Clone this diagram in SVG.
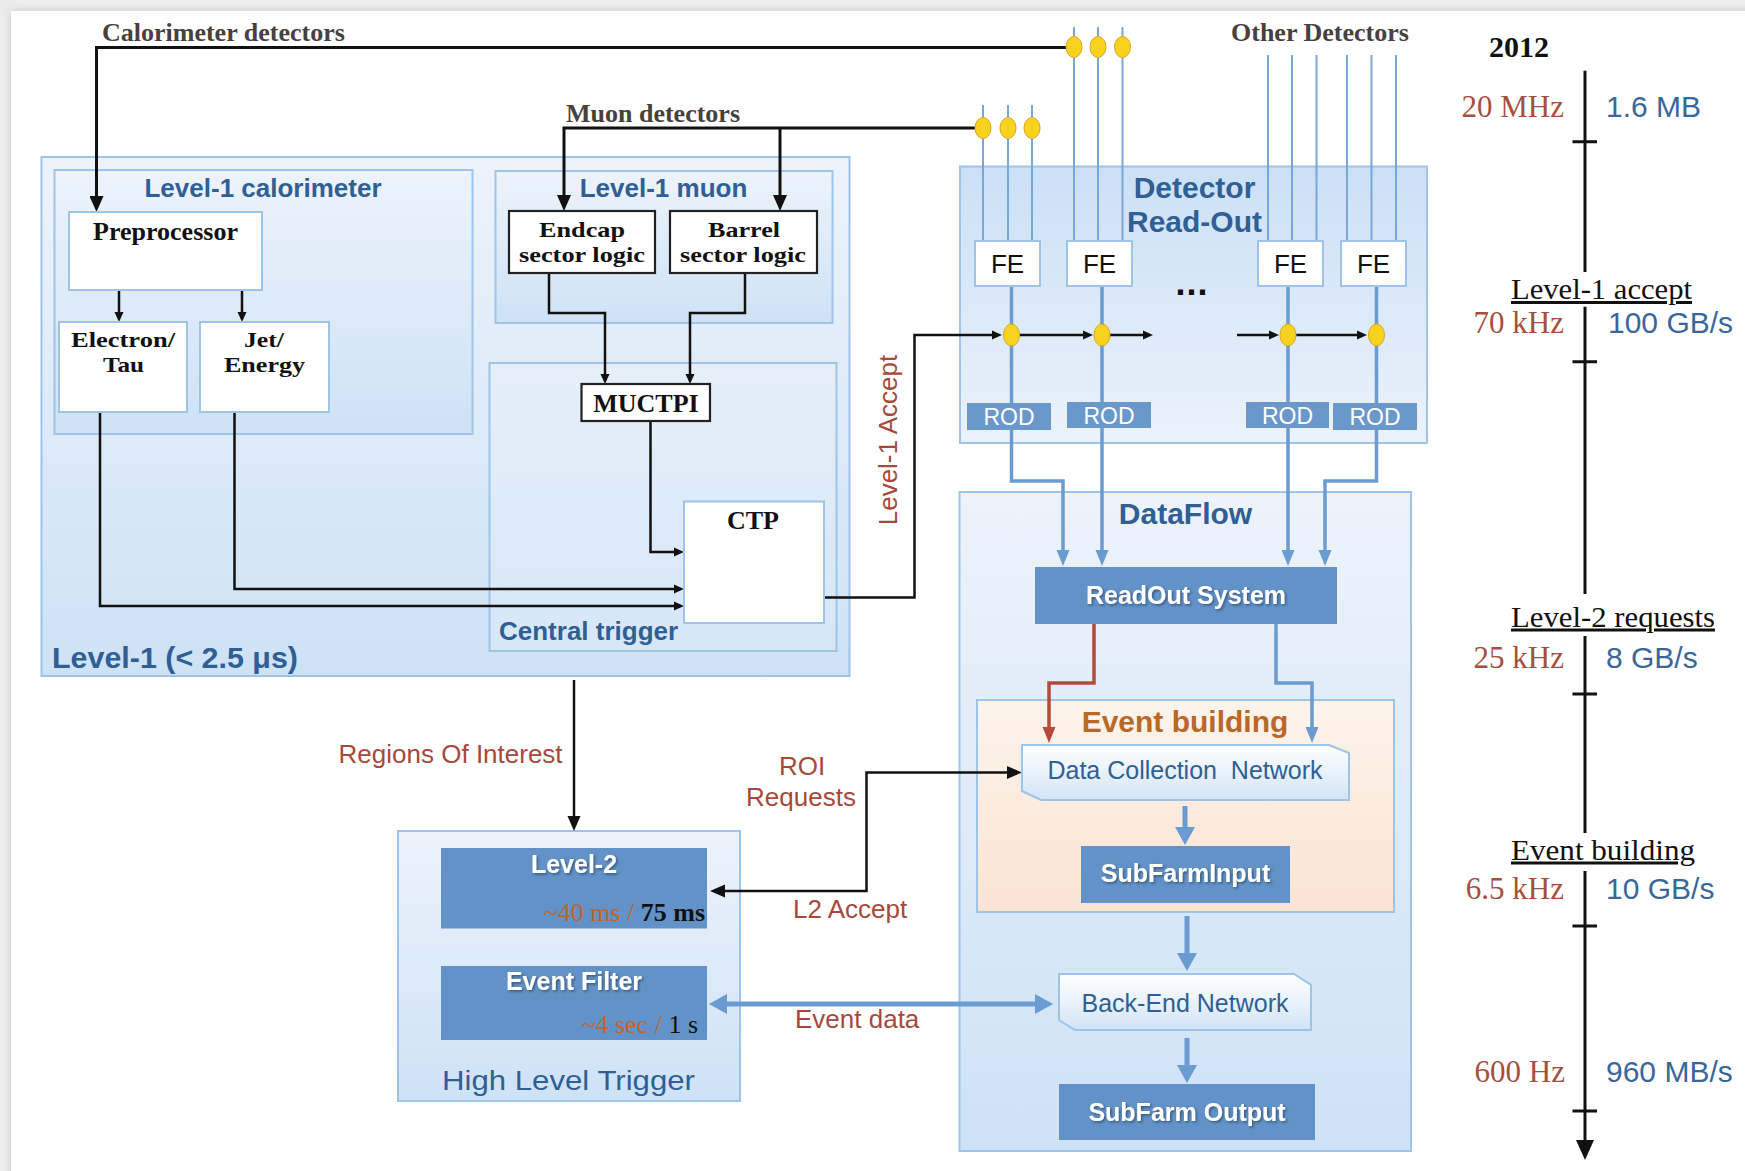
<svg xmlns="http://www.w3.org/2000/svg" width="1745" height="1171" viewBox="0 0 1745 1171">
<defs>
<style>
.box{stroke:#9ec4e8;stroke-width:2}
.wbox{fill:#fff;stroke:#9ec4e8;stroke-width:2}
.kbox{fill:#fff;stroke:#222;stroke-width:2.2}
.dbox{fill:#6292c7}
.rod{fill:#6a98cb}
.net{fill:url(#gNet);stroke:#9ec4e8;stroke-width:2}
.ttl{font-family:"Liberation Sans",Arial,sans-serif;font-weight:bold;fill:#2f5f95}
.ser{font-family:"Liberation Serif","Times New Roman",serif;font-weight:bold;font-size:26px;fill:#111}
.ser2{font-family:"Liberation Serif","Times New Roman",serif;font-weight:bold;font-size:22px;fill:#111}
.san{font-family:"Liberation Sans",Arial,sans-serif}
.wt{font-family:"Liberation Sans",Arial,sans-serif;font-weight:bold;font-size:25px;fill:#fff;filter:url(#ts)}
.lbl{font-family:"Liberation Sans",Arial,sans-serif;font-size:26px;fill:#a6493b}
.det{font-family:"Liberation Serif","Times New Roman",serif;font-weight:bold;font-size:26px;fill:#47413e}
.rate{font-family:"Liberation Serif","Times New Roman",serif;font-size:31px;fill:#a5503f;text-anchor:end}
.bw{font-family:"Liberation Sans",Arial,sans-serif;font-size:30px;fill:#3a679a}
.stg{font-family:"Liberation Serif","Times New Roman",serif;font-size:30px;fill:#111;text-decoration:underline}
.k{fill:none;stroke:#111;stroke-width:2.5}
.kt{fill:none;stroke:#111;stroke-width:3}
.b{fill:none;stroke:#6a9bd1;stroke-width:3.5}
.bt{fill:none;stroke:#7aa7d9;stroke-width:2}
.bf{fill:none;stroke:#6a9bd1;stroke-width:5}
.r{fill:none;stroke:#b5493a;stroke-width:3.5}
.dot{fill:#f7d31f;stroke:#d8a82a;stroke-width:1}
</style>
<linearGradient id="gBox" x1="0" y1="0" x2="0" y2="1">
<stop offset="0" stop-color="#edf3fb"/><stop offset="1" stop-color="#cee2f6"/>
</linearGradient>
<linearGradient id="gCT" x1="0" y1="0" x2="0" y2="1">
<stop offset="0" stop-color="#e6eff9"/><stop offset="1" stop-color="#d6e7f8"/>
</linearGradient>
<linearGradient id="gDRO" x1="0" y1="0" x2="0" y2="1">
<stop offset="0" stop-color="#cbe0f6"/><stop offset="1" stop-color="#ebf2fb"/>
</linearGradient>
<linearGradient id="gEB" x1="0" y1="0" x2="0" y2="1">
<stop offset="0" stop-color="#fcf4ec"/><stop offset="1" stop-color="#fbe3d2"/>
</linearGradient>
<linearGradient id="gNet" x1="0" y1="0" x2="0" y2="1">
<stop offset="0" stop-color="#ffffff"/><stop offset="1" stop-color="#d3e4f6"/>
</linearGradient>
<filter id="ts" x="-10%" y="-30%" width="120%" height="160%">
<feDropShadow dx="1.5" dy="1.5" stdDeviation="1.2" flood-color="#1e3550" flood-opacity="0.6"/>
</filter>
<filter id="sh" x="-5%" y="-5%" width="110%" height="110%">
<feGaussianBlur stdDeviation="5"/>
</filter>
<marker id="aBig" markerUnits="userSpaceOnUse" markerWidth="16" markerHeight="14" refX="2" refY="7" orient="auto">
<path d="M0,0 L16,7 L0,14 z" fill="#111"/>
</marker>
<marker id="aSm" markerUnits="userSpaceOnUse" markerWidth="10" markerHeight="10" refX="2" refY="5" orient="auto">
<path d="M0,0.5 L10,5 L0,9.5 z" fill="#111"/>
</marker>
<marker id="aMed" markerUnits="userSpaceOnUse" markerWidth="15" markerHeight="14" refX="2" refY="7" orient="auto-start-reverse">
<path d="M0,0.5 L15,7 L0,13.5 z" fill="#111"/>
</marker>
<marker id="bArr" markerUnits="userSpaceOnUse" markerWidth="16" markerHeight="14" refX="2" refY="7" orient="auto">
<path d="M0,0.5 L16,7 L0,13.5 z" fill="#6a9bd1"/>
</marker>
<marker id="rArr" markerUnits="userSpaceOnUse" markerWidth="16" markerHeight="14" refX="2" refY="7" orient="auto">
<path d="M0,0.5 L16,7 L0,13.5 z" fill="#b5493a"/>
</marker>
<marker id="bFat" markerUnits="userSpaceOnUse" markerWidth="18" markerHeight="20" refX="2" refY="10" orient="auto-start-reverse">
<path d="M0,0 L18,10 L0,20 z" fill="#6a9bd1"/>
</marker>
<marker id="tArr" markerUnits="userSpaceOnUse" markerWidth="20" markerHeight="18" refX="2" refY="9" orient="auto">
<path d="M0,0 L20,9 L0,18 z" fill="#111"/>
</marker>
</defs>

<rect x="0" y="0" width="1745" height="1171" fill="#ededed"/>
<rect x="11" y="11" width="1760" height="1190" fill="#c8c8c8" filter="url(#sh)"/>
<rect x="11" y="11" width="1734" height="1160" fill="#ffffff"/>

<!-- containers -->
<g id="level1">
<rect class="box" x="41.5" y="157" width="808" height="519" fill="url(#gBox)"/>
<text class="ttl" x="52" y="668" font-size="29" textLength="246" lengthAdjust="spacingAndGlyphs">Level-1 (&lt; 2.5 μs)</text>
</g>
<g id="l1calo">
<rect class="box" x="54.5" y="170" width="418" height="264" fill="url(#gBox)"/>
<text class="ttl" x="263" y="197" font-size="26" text-anchor="middle">Level-1 calorimeter</text>
</g>
<g id="l1muon">
<rect class="box" x="495.5" y="171" width="337" height="152" fill="url(#gBox)"/>
<text class="ttl" x="663.5" y="197" font-size="26" text-anchor="middle">Level-1 muon</text>
</g>
<g id="central-trigger">
<rect class="box" x="489.5" y="363" width="347" height="288" fill="url(#gCT)"/>
<text class="ttl" x="499" y="640" font-size="26">Central trigger</text>
</g>
<g id="detector-readout">
<rect class="box" x="960" y="166.5" width="467" height="276.5" fill="url(#gDRO)"/>
<text class="ttl" x="1194.5" y="198" font-size="30" text-anchor="middle">Detector</text>
<text class="ttl" x="1194.5" y="232" font-size="30" text-anchor="middle">Read-Out</text>
</g>
<g id="dataflow">
<rect class="box" x="959.5" y="492" width="451.5" height="659" fill="url(#gBox)"/>
<text class="ttl" x="1185.5" y="524" font-size="30" text-anchor="middle">DataFlow</text>
</g>
<g id="event-building">
<rect class="box" x="977" y="700" width="417" height="212" fill="url(#gEB)"/>
<text class="ttl" x="1185" y="732" font-size="30" text-anchor="middle" style="fill:#b8692a">Event building</text>
</g>
<g id="hlt">
<rect class="box" x="398" y="831" width="342" height="270" fill="url(#gBox)"/>
<text class="san" x="568.5" y="1090" font-size="27" fill="#2f5f95" text-anchor="middle" textLength="253" lengthAdjust="spacingAndGlyphs">High Level Trigger</text>
</g>

<!-- connectors -->
<g id="connectors">
<path class="bt" d="M1074 27V241M1098 27V241M1122.5 27V241"/>
<path class="bt" d="M983 105V241M1008 105V241M1032 105V241"/>
<path class="bt" d="M1268 55V241M1292 55V241M1316.5 55V241M1347 55V241M1371.5 55V241M1396 55V241"/>
<path class="kt" d="M1074 47.5H96.5V198" marker-end="url(#aBig)"/>
<path class="kt" d="M983 128H564V197" marker-end="url(#aBig)"/>
<path class="kt" d="M780 128V197" marker-end="url(#aBig)"/>
<path class="k" d="M119 290V314" marker-end="url(#aSm)"/>
<path class="k" d="M242 290V314" marker-end="url(#aSm)"/>
<path class="k" d="M549 273V313H605V376" marker-end="url(#aSm)"/>
<path class="k" d="M745 273V313H690V376" marker-end="url(#aSm)"/>
<path class="k" d="M650.5 421V552H676" marker-end="url(#aSm)"/>
<path class="k" d="M234.5 412V589H676" marker-end="url(#aSm)"/>
<path class="k" d="M100 412V606H676" marker-end="url(#aSm)"/>
<path class="b" d="M1011.5 286V403M1102 286V402M1288 286V402M1376.5 286V403"/>
<path class="k" d="M824 597.5H914.5V335H994" marker-end="url(#aSm)"/>
<path class="k" d="M1019 335H1085" marker-end="url(#aSm)"/>
<path class="k" d="M1110 335H1145" marker-end="url(#aSm)"/>
<path class="k" d="M1237 335H1271" marker-end="url(#aSm)"/>
<path class="k" d="M1295 335H1359" marker-end="url(#aSm)"/>
<path class="b" d="M1011.5 430V481H1063V552" marker-end="url(#bArr)"/>
<path class="b" d="M1102 428V552" marker-end="url(#bArr)"/>
<path class="b" d="M1288 428V552" marker-end="url(#bArr)"/>
<path class="b" d="M1376.5 430V481H1325V552" marker-end="url(#bArr)"/>
<path class="r" d="M1094 624V683H1049V729" marker-end="url(#rArr)"/>
<path class="b" d="M1276 624V683H1312V729" marker-end="url(#bArr)"/>
<path class="bf" d="M1185 806V829" marker-end="url(#bFat)"/>
<path class="bf" d="M1187 916V955" marker-end="url(#bFat)"/>
<path class="bf" d="M1187 1038V1067" marker-end="url(#bFat)"/>
<path class="bf" d="M725 1004H1037" marker-start="url(#bFat)" marker-end="url(#bFat)"/>
<path class="k" d="M574 680V818" marker-end="url(#aMed)"/>
<path class="k" d="M723 891H866.5V772.5H1009" marker-start="url(#aMed)" marker-end="url(#aMed)"/>
<ellipse class="dot" cx="1074" cy="47" rx="8" ry="10.5"/>
<ellipse class="dot" cx="1098" cy="47" rx="8" ry="10.5"/>
<ellipse class="dot" cx="1122.5" cy="47" rx="8" ry="10.5"/>
<ellipse class="dot" cx="983" cy="128" rx="8" ry="10.5"/>
<ellipse class="dot" cx="1008" cy="128" rx="8" ry="10.5"/>
<ellipse class="dot" cx="1032" cy="128" rx="8" ry="10.5"/>
<ellipse class="dot" cx="1011.5" cy="335" rx="8" ry="11"/>
<ellipse class="dot" cx="1102" cy="335" rx="8" ry="11"/>
<ellipse class="dot" cx="1288" cy="335" rx="8" ry="11"/>
<ellipse class="dot" cx="1376.5" cy="335" rx="8" ry="11"/>
</g>

<!-- detector source labels -->
<g id="sources">
<text class="det" x="102" y="41">Calorimeter detectors</text>
<text class="det" x="566" y="122">Muon detectors</text>
<text class="det" x="1231" y="41">Other Detectors</text>
</g>

<!-- Level-1 nodes -->
<g id="preprocessor">
<rect class="wbox" x="69" y="212" width="193" height="78"/>
<text class="ser" x="165.5" y="240" text-anchor="middle">Preprocessor</text>
</g>
<g id="electron-tau">
<rect class="wbox" x="59" y="322" width="128" height="90"/>
<text class="ser2" x="123" y="347" text-anchor="middle" textLength="104" lengthAdjust="spacingAndGlyphs">Electron/</text>
<text class="ser2" x="123.5" y="372" text-anchor="middle" textLength="41" lengthAdjust="spacingAndGlyphs">Tau</text>
</g>
<g id="jet-energy">
<rect class="wbox" x="200" y="322" width="129" height="90"/>
<text class="ser2" x="264" y="347" text-anchor="middle" textLength="40" lengthAdjust="spacingAndGlyphs">Jet/</text>
<text class="ser2" x="264.5" y="372" text-anchor="middle" textLength="81" lengthAdjust="spacingAndGlyphs">Energy</text>
</g>
<g id="endcap">
<rect class="kbox" x="509" y="211" width="146" height="62"/>
<text class="ser2" x="582" y="237" text-anchor="middle" textLength="86" lengthAdjust="spacingAndGlyphs">Endcap</text>
<text class="ser2" x="582" y="262" text-anchor="middle" textLength="126" lengthAdjust="spacingAndGlyphs">sector logic</text>
</g>
<g id="barrel">
<rect class="kbox" x="670" y="211" width="147" height="62"/>
<text class="ser2" x="744" y="237" text-anchor="middle" textLength="72" lengthAdjust="spacingAndGlyphs">Barrel</text>
<text class="ser2" x="743" y="262" text-anchor="middle" textLength="126" lengthAdjust="spacingAndGlyphs">sector logic</text>
</g>
<g id="muctpi">
<rect class="kbox" x="581.5" y="384" width="128.5" height="37"/>
<text class="ser" x="646" y="412" text-anchor="middle">MUCTPI</text>
</g>
<g id="ctp">
<rect class="wbox" x="684" y="501.5" width="140" height="121.5"/>
<text class="ser" x="753" y="529" text-anchor="middle">CTP</text>
</g>

<!-- Detector read-out nodes -->
<g id="fe1"><rect class="wbox" x="975" y="241" width="65" height="45"/><text class="san" x="1007.5" y="272.5" font-size="26" text-anchor="middle" fill="#111">FE</text></g>
<g id="fe2"><rect class="wbox" x="1067" y="241" width="65" height="45"/><text class="san" x="1099.5" y="272.5" font-size="26" text-anchor="middle" fill="#111">FE</text></g>
<g id="fe3"><rect class="wbox" x="1258" y="241" width="65" height="45"/><text class="san" x="1290.5" y="272.5" font-size="26" text-anchor="middle" fill="#111">FE</text></g>
<g id="fe4"><rect class="wbox" x="1341" y="241" width="65" height="45"/><text class="san" x="1373.5" y="272.5" font-size="26" text-anchor="middle" fill="#111">FE</text></g>
<g id="ellipsis"><text class="san" x="1192" y="295" font-size="36" font-weight="bold" text-anchor="middle" fill="#111" letter-spacing="1">...</text></g>
<g id="rod1"><rect class="rod" x="967" y="403" width="84" height="27"/><text class="san" x="1009" y="425" font-size="23" text-anchor="middle" fill="#fff">ROD</text></g>
<g id="rod2"><rect class="rod" x="1067" y="402" width="84" height="26"/><text class="san" x="1109" y="424" font-size="23" text-anchor="middle" fill="#fff">ROD</text></g>
<g id="rod3"><rect class="rod" x="1246" y="402" width="83" height="26"/><text class="san" x="1287.5" y="424" font-size="23" text-anchor="middle" fill="#fff">ROD</text></g>
<g id="rod4"><rect class="rod" x="1333" y="403" width="84" height="27"/><text class="san" x="1375" y="425" font-size="23" text-anchor="middle" fill="#fff">ROD</text></g>

<!-- DataFlow nodes -->
<g id="readout-system">
<rect class="dbox" x="1035" y="567" width="302" height="57"/>
<text class="wt" x="1186" y="604" text-anchor="middle">ReadOut System</text>
</g>
<g id="dcn">
<polygon class="net" points="1022,745 1329,745 1349,753 1349,800 1041,800 1022,791"/>
<text class="san" x="1185" y="779" font-size="25" fill="#2f5f95" text-anchor="middle">Data Collection &#160;Network</text>
</g>
<g id="sfi">
<rect class="dbox" x="1081" y="846" width="209" height="57"/>
<text class="wt" x="1185.5" y="882" text-anchor="middle">SubFarmInput</text>
</g>
<g id="ben">
<polygon class="net" points="1059,974 1294,974 1311,985 1311,1030 1075,1030 1059,1020"/>
<text class="san" x="1185" y="1012" font-size="25" fill="#2f5f95" text-anchor="middle">Back-End Network</text>
</g>
<g id="sfo">
<rect class="dbox" x="1059" y="1084" width="256" height="56"/>
<text class="wt" x="1187" y="1121" text-anchor="middle">SubFarm Output</text>
</g>

<!-- HLT nodes -->
<g id="level2">
<rect class="dbox" x="441" y="848" width="266" height="80.5"/>
<text class="wt" x="574" y="873" text-anchor="middle">Level-2</text>
<text x="705" y="920.5" text-anchor="end" font-family="Liberation Serif, Times New Roman, serif" font-size="26"><tspan fill="#c0652c">~40 ms / </tspan><tspan fill="#111" font-weight="bold">75 ms</tspan></text>
</g>
<g id="event-filter">
<rect class="dbox" x="441" y="966" width="266" height="74"/>
<text class="wt" x="574" y="990" text-anchor="middle">Event Filter</text>
<text x="698" y="1032.5" text-anchor="end" font-family="Liberation Serif, Times New Roman, serif" font-size="26"><tspan fill="#c0652c">~4 sec / </tspan><tspan fill="#111">1 s</tspan></text>
</g>

<!-- connector labels -->
<g id="labels">
<text class="lbl" transform="translate(897,440) rotate(-90)" text-anchor="middle">Level-1 Accept</text>
<text class="lbl" x="338.6" y="763">Regions Of Interest</text>
<text class="lbl" x="802" y="775" text-anchor="middle">ROI</text>
<text class="lbl" x="801" y="806" text-anchor="middle">Requests</text>
<text class="lbl" x="793" y="918">L2 Accept</text>
<text class="lbl" x="795" y="1028">Event data</text>
</g>

<!-- timeline -->
<g id="timeline">
<path class="kt" d="M1585 70.7V272M1585 306.7V594M1585 636V833"/>
<path class="kt" d="M1585 871V1142" marker-end="url(#tArr)"/>
<path class="kt" d="M1572.5 141.7H1597M1572.5 361.7H1597M1572.5 694H1597M1572.5 926H1597M1572.5 1111H1597"/>
<text x="1489" y="57" font-family="Liberation Serif, Times New Roman, serif" font-weight="bold" font-size="30" fill="#111">2012</text>
<text class="rate" x="1564" y="117">20 MHz</text>
<text class="bw" x="1606" y="117">1.6 MB</text>
<text class="stg" x="1511" y="299" textLength="181" lengthAdjust="spacingAndGlyphs">Level-1 accept</text>
<text class="rate" x="1564" y="333">70 kHz</text>
<text class="bw" x="1608" y="333">100 GB/s</text>
<text class="stg" x="1511" y="626.5" textLength="204" lengthAdjust="spacingAndGlyphs">Level-2 requests</text>
<text class="rate" x="1564" y="667.5">25 kHz</text>
<text class="bw" x="1606" y="667.5">8 GB/s</text>
<text class="stg" x="1511" y="859.5" textLength="184" lengthAdjust="spacingAndGlyphs">Event building</text>
<text class="rate" x="1564" y="899">6.5 kHz</text>
<text class="bw" x="1606" y="899">10 GB/s</text>
<text class="rate" x="1565" y="1082">600 Hz</text>
<text class="bw" x="1606" y="1082">960 MB/s</text>
</g>
</svg>
